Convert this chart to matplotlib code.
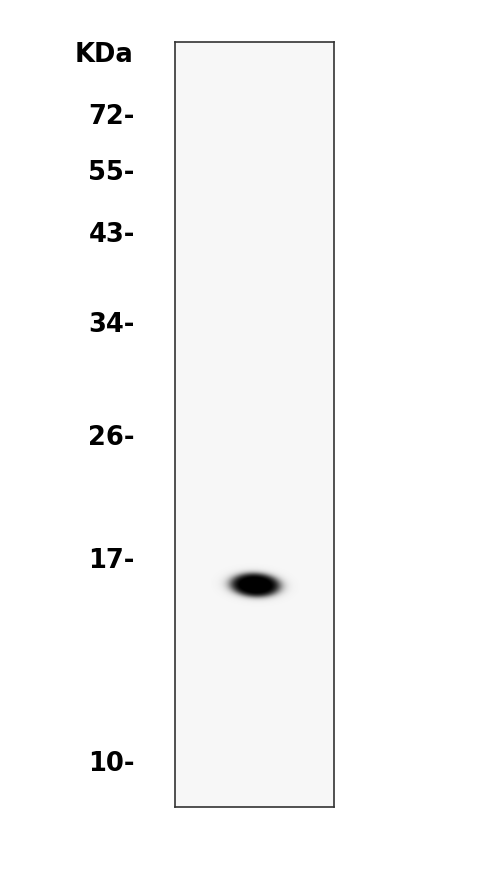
import numpy as np
import matplotlib
matplotlib.use("Agg")
import matplotlib.pyplot as plt

# ---- data ----
marker_labels = ["72", "55", "43", "34", "26", "17", "10"]
marker_migration = [114, 170, 232, 322, 435, 558, 761]   # migration (gel rows)
unit_label = "KDa"
band_lane_center = 0.505      # lane fraction
band_migration = 585          # gel row
band_half_width = 0.165       # lane fraction
band_half_height = 12.5       # gel rows
band_tilt = 6.0               # gel rows per lane fraction
gel_top, gel_bottom = 42, 807

W, H, DPI = 500, 881, 100
fig = plt.figure(figsize=(W / DPI, H / DPI), dpi=DPI)
fig.patch.set_facecolor("white")
ax = fig.add_axes([175 / W, 1 - gel_bottom / H, 159 / W, (gel_bottom - gel_top) / H])

# build lane image at pixel resolution
nx, ny = 159 * 2, (gel_bottom - gel_top) * 2
xs = (np.arange(nx) + 0.5) / nx
ys = gel_top + (np.arange(ny) + 0.5) / ny * (gel_bottom - gel_top)
X, Y = np.meshgrid(xs, ys)
dx = (X - band_lane_center) / band_half_width
dy = (Y - band_migration - band_tilt * (X - band_lane_center)) / band_half_height
r = np.sqrt(dx ** 2 + dy ** 2)
dark = 1.0 / (1.0 + np.exp((r - 0.92) / 0.13))
dark = np.clip(dark * 1.08, 0, 1)
bg = 0.968
img = bg * (1 - dark)
ax.imshow(img, cmap="gray", vmin=0, vmax=1, extent=[0, 1, gel_bottom, gel_top],
          aspect="auto", interpolation="bilinear")
ax.set_xlim(0, 1)
ax.set_ylim(gel_bottom, gel_top)
ax.set_xticks([])
ax.set_yticks(marker_migration, labels=[m + "-" for m in marker_labels])
ax.tick_params(axis="y", length=0, pad=29)
for t in ax.get_yticklabels():
    t.set_fontsize(18.5)
    t.set_fontweight("bold")
    t.set_fontfamily("DejaVu Sans")
for s in ax.spines.values():
    s.set_color("#333333")
    s.set_linewidth(1.2)

fig.text(133 / W, 1 - 55 / H, unit_label, ha="right", va="center",
         fontsize=18.5, fontweight="bold", family="DejaVu Sans")

fig.savefig("out.png", dpi=DPI, facecolor="white")
